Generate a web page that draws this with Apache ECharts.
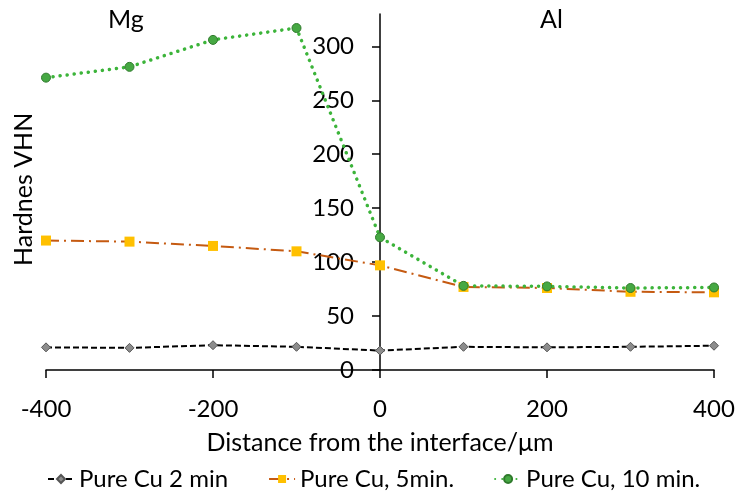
<!DOCTYPE html>
<html>
<head>
<meta charset="utf-8">
<script src="https://cdn.jsdelivr.net/npm/echarts@6/dist/echarts.min.js"></script>
<style>
  html, body { margin: 0; padding: 0; background: #fff; }
  #chart { width: 737px; height: 497px; }
</style>
</head>
<body>
<div id="chart"></div>
<script>
// distance from the interface (um)
var distance = [-400, -300, -200, -100, 0, 100, 200, 300, 400];
// hardness values
var cu2min = [21, 20.5, 23, 21.5, 18, 21.5, 21, 21.5, 22.5];
var cu5min = [120, 119, 115, 110, 97, 77, 76, 72.5, 72];
var cu10min = [271, 281, 306, 317, 123, 78, 77.5, 76, 76.5];
var seriesNames = ["Pure Cu 2 min", "Pure Cu, 5min.", "Pure Cu, 10 min."];
var yTicks = [0, 50, 100, 150, 200, 250, 300];
var xTicks = [-400, -200, 0, 200, 400];

var font = "Lato";
var gridLeft = 46, gridRight = 23;
var plotW = 737 - gridLeft - gridRight;

function pairs(vals) {
  var arr = [];
  for (var i = 0; i < distance.length; i++) {
    arr.push([distance[i], vals[i]]);
  }
  return arr;
}

var chart = echarts.init(document.getElementById("chart"));
var option = {
  animation: false,
  textStyle: { fontFamily: font },
  grid: { left: gridLeft, right: gridRight, top: 14, bottom: 127, containLabel: false, outerBoundsMode: "none" },
  xAxis: {
    type: "value",
    min: -400,
    max: 400,
    interval: 200,
    name: "Distance from the interface/\u03bcm",
    nameLocation: "middle",
    nameGap: 60,
    nameTextStyle: { fontSize: 25, color: "#000", fontFamily: font },
    axisLine: { show: true, lineStyle: { color: "#000", width: 1.5 } },
    axisTick: { show: true, length: 8, lineStyle: { color: "#000", width: 1.5 }, customValues: xTicks },
    axisLabel: { fontSize: 24, color: "#000", margin: 27, customValues: xTicks },
    splitLine: { show: false }
  },
  yAxis: {
    type: "value",
    min: 0,
    max: 330,
    // axis sits on x = 0, i.e. the middle of the plot
    offset: -plotW / 2,
    axisLine: { show: true, onZero: false, lineStyle: { color: "#000", width: 1.5 } },
    axisTick: { show: true, length: 8, lineStyle: { color: "#000", width: 1.5 }, customValues: yTicks },
    axisLabel: { fontSize: 24, color: "#000", margin: 26, customValues: yTicks },
    splitLine: { show: false }
  },
  legend: {
    left: 42,
    bottom: 1,
    itemGap: 40,
    itemWidth: 26,
    itemHeight: 10,
    textStyle: { fontSize: 24, color: "#000", fontFamily: font },
    data: seriesNames
  },
  graphic: [
    { type: "text", left: 108, top: 7, style: { text: "Mg", font: "25px " + font, fill: "#000" } },
    { type: "text", left: 540, top: 7, style: { text: "Al", font: "25px " + font, fill: "#000" } },
    {
      type: "text", x: 11, y: 266, rotation: Math.PI / 2,
      style: { text: "Hardnes VHN", font: "25px " + font, fill: "#000", align: "left", verticalAlign: "top" }
    }
  ],
  series: [
    {
      name: seriesNames[0],
      type: "line",
      data: pairs(cu2min),
      symbol: "diamond",
      symbolSize: 9,
      itemStyle: { color: "#8c8c8c", borderColor: "#555", borderWidth: 1 },
      lineStyle: { color: "#000", width: 2, type: [6, 3] }
    },
    {
      name: seriesNames[1],
      type: "line",
      data: pairs(cu5min),
      symbol: "rect",
      symbolSize: 10,
      itemStyle: { color: "#ffc000", borderColor: "#ffc000", borderWidth: 0 },
      lineStyle: { color: "#c55a11", width: 2, type: [13, 5, 2, 5] }
    },
    {
      name: seriesNames[2],
      type: "line",
      data: pairs(cu10min),
      symbol: "circle",
      symbolSize: 9,
      itemStyle: { color: "#46a843", borderColor: "#2f7a2c", borderWidth: 1 },
      lineStyle: { color: "#3cb43a", width: 3.5, type: [0.1, 7], cap: "round" }
    }
  ]
};
chart.setOption(option);
</script>
</body>
</html>
